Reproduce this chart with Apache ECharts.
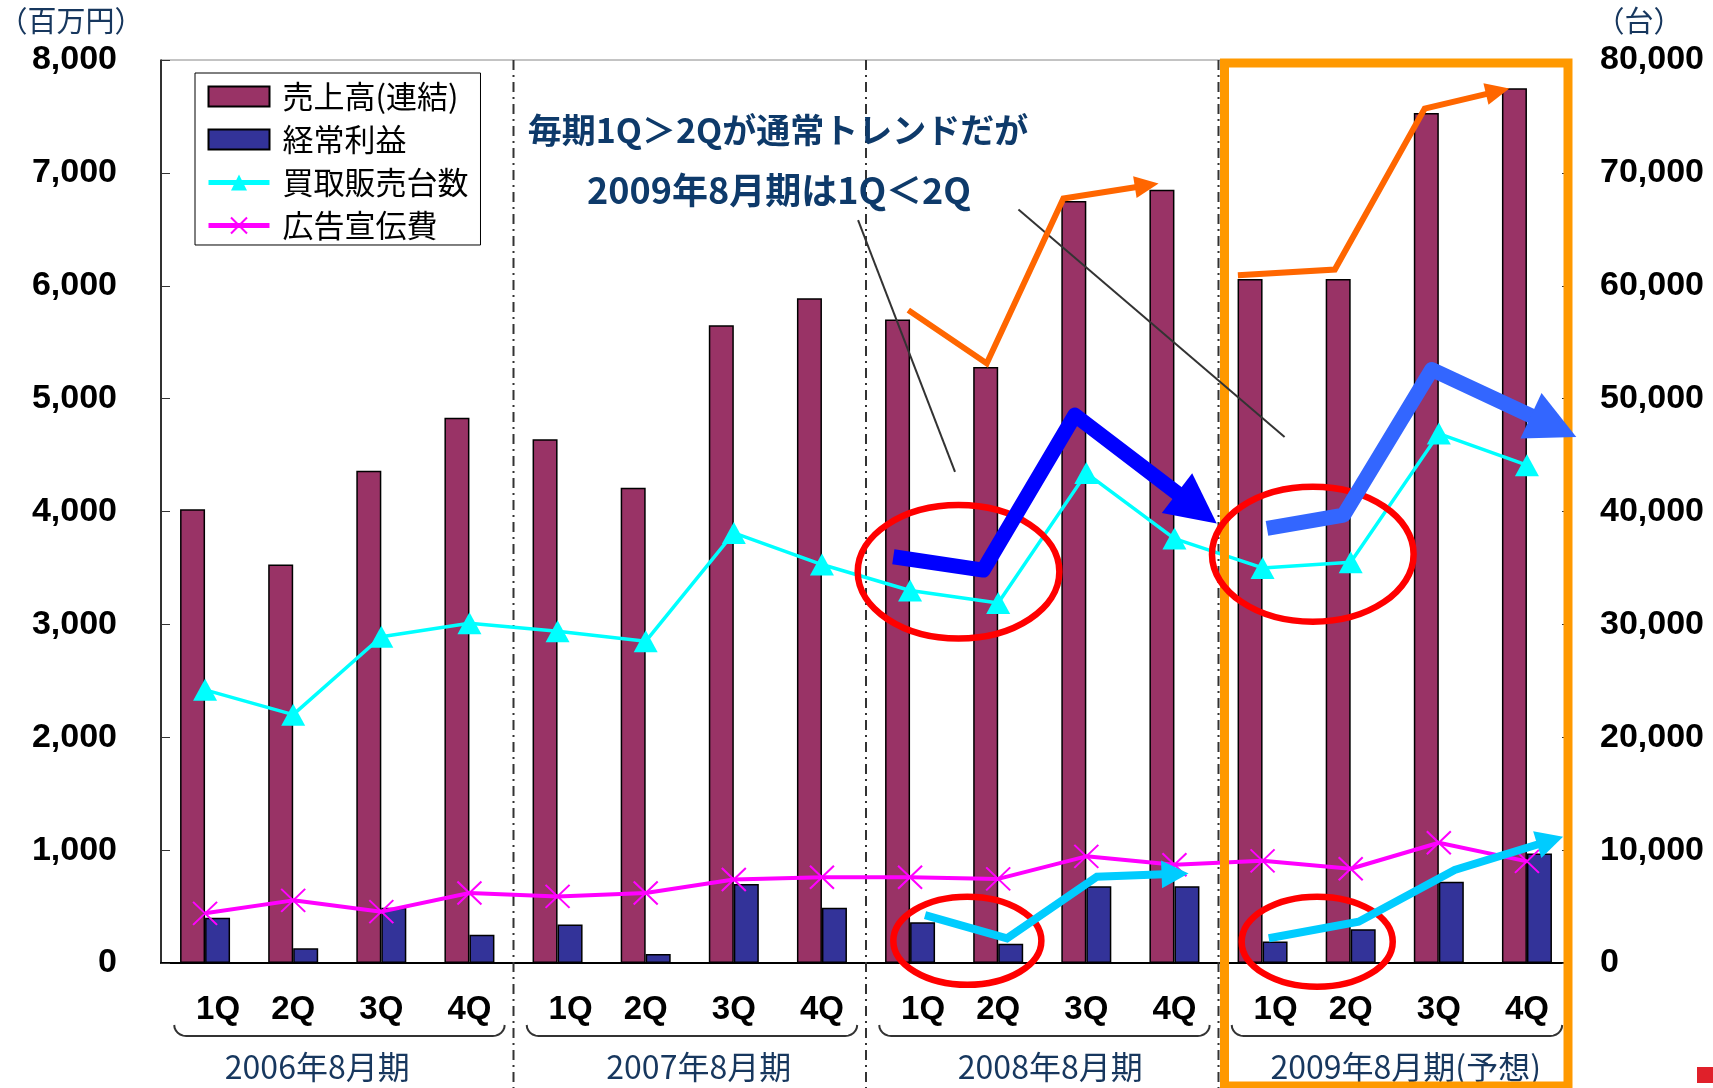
<!DOCTYPE html>
<html>
<head>
<meta charset="utf-8">
<script src="https://cdn.jsdelivr.net/npm/echarts@6/dist/echarts.min.js"></script>
<style>
  html, body { margin: 0; padding: 0; background: #fff; }
  #main { width: 1713px; height: 1088px; }
</style>
</head>
<body>
<div id="main"></div>
<script>
// 決算期と四半期
var fiscalYears = ['2006年8月期', '2007年8月期', '2008年8月期', '2009年8月期(予想)'];
var quarters = ['1Q', '2Q', '3Q', '4Q'];

// 売上高（連結）・経常利益・広告宣伝費 (百万円)
var sales = [4020, 3530, 4360, 4830, 4640, 4210, 5650, 5890, 5700, 5280, 6750, 6850, 6060, 6060, 7530, 7750];
var ordinaryProfit = [400, 130, 490, 250, 340, 80, 700, 490, 360, 170, 680, 680, 190, 300, 720, 970];
var adCost = [440, 555, 455, 620, 590, 620, 740, 760, 760, 745, 945, 870, 905, 835, 1065, 900];
// 買取販売台数 (台)
var unitsSold = [24200, 22000, 28900, 30100, 29400, 28500, 38100, 35300, 33000, 31900, 43400, 37600, 35000, 35500, 46900, 44100];

// 軸の目盛り
var leftMax = 8000, leftStep = 1000;
var rightMax = 80000, rightStep = 10000;

var categories = [];
fiscalYears.forEach(function (fy) {
  quarters.forEach(function (q) { categories.push(fy + '|' + q); });
});

var JP = '"Noto Sans CJK JP"';
var NUM = '"Liberation Sans", Arial, sans-serif';
var NAVY = '#17375E';

function commas(v) {
  return String(v).replace(/\B(?=(\d{3})+(?!\d))/g, ',');
}

// 期ラベルの少しのずれ（元資料どおり）
var yearStyle = { fontFamily: JP, fontSize: 32, color: NAVY };
var yearRich = {
  y0: Object.assign({ padding: [0, 40, 0, 0] }, yearStyle),
  y1: Object.assign({ padding: [0, 0, 0, 18] }, yearStyle),
  y2: Object.assign({ padding: [0, 0, 0, 16] }, yearStyle),
  y3: Object.assign({ padding: [0, 0, 0, 22] }, yearStyle)
};

var chart = echarts.init(document.getElementById('main'));

chart.setOption({
  animation: false,
  backgroundColor: '#fff',
  grid: {
    left: 161, right: 142, top: 60, bottom: 125,
    show: true, borderColor: '#888', borderWidth: 1
  },
  legend: {
    orient: 'vertical',
    left: 195, top: 73,
    padding: [8, 12, 4, 11],
    itemWidth: 61, itemHeight: 20, itemGap: 12,
    borderColor: '#000', borderWidth: 1, backgroundColor: '#fff',
    selectedMode: false,
    lineStyle: { width: 5 },
    textStyle: { fontFamily: JP, fontSize: 31, color: '#000', padding: [0, 0, 0, 8] },
    data: [
      { name: '売上高(連結)', icon: 'rect' },
      { name: '経常利益', icon: 'rect' },
      '買取販売台数',
      '広告宣伝費'
    ]
  },
  xAxis: [
    {
      type: 'category',
      data: categories,
      axisLine: { lineStyle: { color: '#000', width: 2 } },
      axisTick: { inside: true, length: 10, lineStyle: { color: '#333', width: 1 } },
      axisLabel: {
        margin: 30,
        interval: 0,
        formatter: function (v) {
          var q = v.split('|')[1];
          return q === '1Q' ? '{a|' + q + '}' : '{b|' + q + '}';
        },
        rich: {
          a: { fontFamily: NUM, fontWeight: 'bold', fontSize: 33, color: '#000', padding: [0, 0, 0, 26] },
          b: { fontFamily: NUM, fontWeight: 'bold', fontSize: 33, color: '#000' }
        }
      },
      splitLine: { show: false }
    },
    {
      type: 'category',
      position: 'bottom',
      data: fiscalYears,
      axisLine: { show: false },
      axisTick: { show: false },
      axisLabel: {
        margin: 88, interval: 0,
        formatter: function (v, i) { return '{y' + i + '|' + v + '}'; },
        rich: yearRich
      },
      splitLine: { show: false }
    }
  ],
  yAxis: [
    {
      type: 'value', min: 0, max: leftMax, interval: leftStep,
      axisLine: { show: true, lineStyle: { color: '#000', width: 1.5 } },
      axisTick: { show: true, inside: true, length: 9, lineStyle: { color: '#333' } },
      axisLabel: { margin: 44, fontFamily: NUM, fontWeight: 'bold', fontSize: 34, color: '#000', formatter: commas },
      splitLine: { show: false }
    },
    {
      type: 'value', min: 0, max: rightMax, interval: rightStep,
      axisLine: { show: true, lineStyle: { color: '#888', width: 1 } },
      axisTick: { show: true, inside: true, length: 9, lineStyle: { color: '#333' } },
      axisLabel: { margin: 29, fontFamily: NUM, fontWeight: 'bold', fontSize: 34, color: '#000', formatter: commas },
      splitLine: { show: false }
    }
  ],
  series: [
    {
      name: '売上高(連結)', type: 'bar', data: sales,
      barWidth: 25, barGap: '0%',
      itemStyle: { color: '#993366', borderColor: '#000', borderWidth: 1.5 }
    },
    {
      name: '経常利益', type: 'bar', data: ordinaryProfit,
      barWidth: 25,
      itemStyle: { color: '#333399', borderColor: '#000', borderWidth: 1.5 }
    },
    {
      name: '買取販売台数', type: 'line', yAxisIndex: 1, data: unitsSold,
      symbol: 'triangle', symbolSize: [24, 22],
      lineStyle: { color: '#00FFFF', width: 3.5 },
      itemStyle: { color: '#00FFFF' },
      z: 5
    },
    {
      name: '広告宣伝費', type: 'line', data: adCost,
      symbol: 'path://M0,0L10,10M10,0L0,10', symbolSize: [24, 23],
      lineStyle: { color: '#FF00FF', width: 4 },
      itemStyle: { color: '#FF00FF', borderColor: '#FF00FF', borderWidth: 2 },
      z: 6
    }
  ]
});

// 注釈（矢印・円・枠）はカテゴリ番号と左軸の値で位置を指定
var p0 = chart.convertToPixel({ xAxisIndex: 0, yAxisIndex: 0 }, [0, 0]);
var p1 = chart.convertToPixel({ xAxisIndex: 0, yAxisIndex: 0 }, [15, leftMax]);
var catW = (p1[0] - p0[0]) / 15;
var perVal = (p0[1] - p1[1]) / leftMax;
function pt(c, v) { return [p0[0] + catW * c, p0[1] - perVal * v]; }

var g = [];

function arrow(pts, color, width, headLen, headW, join) {
  var p = pts.map(function (d) { return pt(d[0], d[1]); });
  var tip = p[p.length - 1], prev = p[p.length - 2];
  var dx = tip[0] - prev[0], dy = tip[1] - prev[1];
  var len = Math.sqrt(dx * dx + dy * dy);
  var ux = dx / len, uy = dy / len;
  var base = [tip[0] - ux * headLen, tip[1] - uy * headLen];
  g.push({
    type: 'polyline', z: 60,
    shape: { points: p.slice(0, -1).concat([[base[0] + ux * 2, base[1] + uy * 2]]) },
    style: { stroke: color, lineWidth: width, fill: null, lineJoin: join || 'miter' }
  });
  g.push({
    type: 'polygon', z: 60,
    shape: { points: [tip, [base[0] - uy * headW / 2, base[1] + ux * headW / 2], [base[0] + uy * headW / 2, base[1] - ux * headW / 2]] },
    style: { fill: color }
  });
}

function ring(c, v, rc, rv) {
  var ctr = pt(c, v);
  g.push({
    type: 'ellipse', z: 55,
    shape: { cx: ctr[0], cy: ctr[1], rx: rc * catW, ry: rv * perVal },
    style: { stroke: '#FF0000', lineWidth: 6.5, fill: null }
  });
}

var axisY = p0[1];
var plotTop = pt(0, leftMax)[1];

// 期の区切り線
[3.5, 7.5, 11.5].forEach(function (c) {
  var x = pt(c, 0)[0];
  g.push({
    type: 'line', z: 3,
    shape: { x1: x, y1: plotTop, x2: x, y2: 1090 },
    style: { stroke: '#333', lineWidth: 2, lineDash: [10, 5, 2, 5] }
  });
});

// 四半期ラベル下の括弧
for (var k = 0; k < 4; k++) {
  var xa = pt(4 * k - 0.35, 0)[0], xb = pt(4 * k + 3.4, 0)[0];
  var y0 = axisY + 62, y1 = axisY + 73, r = 12;
  var pts = [];
  for (var s = 0; s <= 6; s++) {
    var t = s / 6 * Math.PI / 2;
    pts.push([xa + r - r * Math.cos(t), y0 + (y1 - y0) * Math.sin(t)]);
  }
  for (s = 6; s >= 0; s--) {
    var t2 = s / 6 * Math.PI / 2;
    pts.push([xb - r + r * Math.cos(t2), y0 + (y1 - y0) * Math.sin(t2)]);
  }
  g.push({
    type: 'polyline', z: 3,
    shape: { points: pts },
    style: { stroke: '#333', lineWidth: 2, fill: null }
  });
}

// 2009年8月期の枠
var fx1 = pt(11.5, 0)[0] + 6, fx2 = pt(15.5, 0)[0] - 3;
g.push({
  type: 'rect', z: 40,
  shape: { x: fx1, y: plotTop + 3, width: fx2 - fx1, height: 1086 - plotTop - 3 },
  style: { stroke: '#FF9900', lineWidth: 9, fill: null }
});

// 引き出し線
[[[7.41, 6581], [8.51, 4351]], [[9.23, 6675], [12.25, 4661]]].forEach(function (ln) {
  var a = pt(ln[0][0], ln[0][1]), b = pt(ln[1][0], ln[1][1]);
  g.push({ type: 'line', z: 58, shape: { x1: a[0], y1: a[1], x2: b[0], y2: b[1] }, style: { stroke: '#333', lineWidth: 2 } });
});

// 売上の矢印
arrow([[7.98, 5784], [8.87, 5312], [9.74, 6773], [10.82, 6906]], '#FF6600', 6, 24, 22);
arrow([[11.72, 6094], [12.82, 6144], [13.84, 7570], [14.80, 7747]], '#FF6600', 6, 24, 22);
// 台数の矢印
arrow([[7.81, 3599], [8.83, 3481], [9.87, 4854], [11.48, 3894]], '#0000FF', 15, 50, 50, 'round');
arrow([[12.05, 3850], [12.92, 3968], [13.92, 5258], [15.56, 4661]], '#3366FF', 15, 50, 50, 'round');
// 経常利益の矢印
arrow([[8.17, 425], [9.10, 219], [10.12, 764], [11.16, 794]], '#00CCFF', 8, 27, 28);
arrow([[12.07, 219], [13.09, 366], [14.18, 824], [15.41, 1119]], '#00CCFF', 8, 27, 28);

ring(8.55, 3466, 1.144, 591);
ring(12.57, 3622, 1.144, 598);
ring(8.65, 197, 0.84, 390);
ring(12.62, 189, 0.857, 399);

// 見出し・単位
g.push({ type: 'text', z: 60, x: 778, y: 130,
  style: { text: '毎期1Q＞2Qが通常トレンドだが', fontFamily: JP, fontWeight: 'bold', fontSize: 34, fill: '#0E3A6A', align: 'center', verticalAlign: 'middle' } });
g.push({ type: 'text', z: 60, x: 779, y: 190,
  style: { text: '2009年8月期は1Q＜2Q', fontFamily: JP, fontWeight: 'bold', fontSize: 36, fill: '#0E3A6A', align: 'center', verticalAlign: 'middle' } });
g.push({ type: 'text', z: 60, x: 71, y: 21,
  style: { text: '（百万円）', fontFamily: JP, fontSize: 29, fill: NAVY, align: 'center', verticalAlign: 'middle' } });
g.push({ type: 'text', z: 60, x: 1639, y: 21,
  style: { text: '（台）', fontFamily: JP, fontSize: 29, fill: NAVY, align: 'center', verticalAlign: 'middle' } });
g.push({ type: 'rect', z: 60, shape: { x: 1697, y: 1067, width: 16, height: 16 }, style: { fill: '#E0202A' } });

chart.setOption({ graphic: g });
</script>
</body>
</html>
